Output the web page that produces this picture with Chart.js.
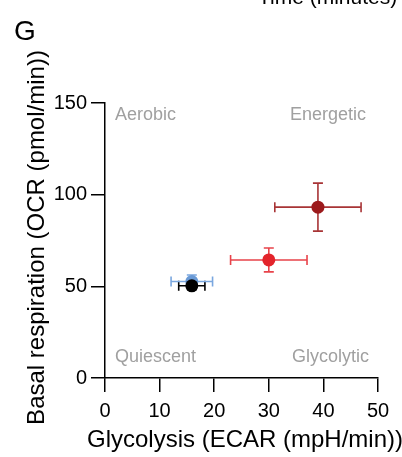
<!DOCTYPE html>
<html>
<head>
<meta charset="utf-8">
<script src="https://cdn.jsdelivr.net/npm/chart.js@4/dist/chart.umd.min.js"></script>
<style>
  html, body { margin: 0; padding: 0; background: #fff; }
  #wrap { position: relative; width: 402px; height: 457px; overflow: hidden; }
  canvas { display: block; }
</style>
</head>
<body>
<div id="wrap"><canvas id="c" width="402" height="457"></canvas></div>
<script>
// ---- data ----
const groups = ['Group A', 'Group B', 'Group C', 'Group D'];
const ecar = [15.9, 15.9, 30.0, 39.0];      // Glycolysis (ECAR, mpH/min)
const ocr = [50.3, 52.6, 64.4, 93.2];       // Basal respiration (OCR, pmol/min)
const ecarErr = [2.4, 3.8, 7.0, 7.9];
const ocrErr = [2.0, 3.6, 6.5, 13.1];
const xTicks = [0, 10, 20, 30, 40, 50];
const yTicks = [0, 50, 100, 150];
const quadrants = ['Aerobic', 'Energetic', 'Quiescent', 'Glycolytic'];
const xTitle = 'Glycolysis (ECAR (mpH/min))';
const yTitle = 'Basal respiration (OCR (pmol/min))';

// ---- styles ----
const pointColors = ['#000000', '#6a9ad6', '#e3242b', '#9c1a1c'];
const barColors = ['#000000', '#7aa7df', '#e8434a', '#a83436'];
const FONT = "'Liberation Sans', Arial, Helvetica, sans-serif";

const datasets = groups.map((g, i) => ({
  label: g,
  data: [{ x: ecar[i], y: ocr[i], xe: ecarErr[i], ye: ocrErr[i] }],
  backgroundColor: pointColors[i],
  borderColor: pointColors[i],
  pointRadius: 6.5,
  pointBorderWidth: 0,
  errColor: barColors[i]
}));

const errorBars = {
  id: 'errorBars',
  beforeDatasetsDraw(chart) {
    const ctx = chart.ctx;
    const xs = chart.scales.x, ys = chart.scales.y;
    const cap = 5;
    ctx.save();
    chart.data.datasets.forEach(ds => {
      ds.data.forEach(p => {
        const cx = xs.getPixelForValue(p.x), cy = ys.getPixelForValue(p.y);
        const x0 = xs.getPixelForValue(p.x - p.xe), x1 = xs.getPixelForValue(p.x + p.xe);
        const y0 = ys.getPixelForValue(p.y - p.ye), y1 = ys.getPixelForValue(p.y + p.ye);
        ctx.strokeStyle = ds.errColor;
        ctx.lineWidth = 1.6;
        ctx.beginPath();
        ctx.moveTo(x0, cy); ctx.lineTo(x1, cy);
        ctx.moveTo(x0, cy - cap); ctx.lineTo(x0, cy + cap);
        ctx.moveTo(x1, cy - cap); ctx.lineTo(x1, cy + cap);
        ctx.moveTo(cx, y0); ctx.lineTo(cx, y1);
        ctx.moveTo(cx - cap, y0); ctx.lineTo(cx + cap, y0);
        ctx.moveTo(cx - cap, y1); ctx.lineTo(cx + cap, y1);
        ctx.stroke();
      });
    });
    ctx.restore();
  }
};

const labels = {
  id: 'labels',
  afterDraw(chart) {
    const ctx = chart.ctx;
    const a = chart.chartArea;
    ctx.save();
    ctx.fillStyle = '#a0a0a0';
    ctx.font = '18px ' + FONT;
    ctx.textBaseline = 'middle';
    ctx.textAlign = 'left';
    ctx.fillText(quadrants[0], a.left + 10, a.top + 12);
    ctx.fillText(quadrants[2], a.left + 10, a.bottom - 21);
    ctx.textAlign = 'right';
    ctx.fillText(quadrants[1], a.right - 12, a.top + 12);
    ctx.fillText(quadrants[3], a.right - 9, a.bottom - 21);
    // axis titles (wider than the plot area, so drawn without squeezing)
    ctx.fillStyle = '#000';
    ctx.font = '24px ' + FONT;
    ctx.textAlign = 'center';
    ctx.textBaseline = 'middle';
    ctx.fillText(xTitle, 245, 440);
    ctx.save();
    ctx.translate(37, 237.5);
    ctx.rotate(-Math.PI / 2);
    ctx.fillText(yTitle, 0, 0);
    ctx.restore();
    // panel letter and clipped heading from the neighbouring panel
    ctx.textAlign = 'left';
    ctx.textBaseline = 'alphabetic';
    ctx.font = '28px ' + FONT;
    ctx.fillText('G', 14, 40);
    ctx.font = '21px ' + FONT;
    ctx.fillText('Time (minutes)', 258, 4);
    ctx.restore();
  }
};

new Chart(document.getElementById('c'), {
  type: 'scatter',
  data: { datasets },
  options: {
    responsive: false,
    animation: false,
    events: [],
    layout: { padding: { top: 103, right: 24, bottom: 0, left: 0 } },
    plugins: { legend: { display: false }, tooltip: { enabled: false } },
    scales: {
      x: {
        type: 'linear',
        min: xTicks[0], max: xTicks[xTicks.length - 1],
        afterFit(s) { s.height = 79; },
        afterBuildTicks(s) { s.ticks = xTicks.map(v => ({ value: v })); },
        grid: { drawOnChartArea: false, color: '#000', lineWidth: 1.5, tickLength: 14 },
        border: { color: '#000', width: 1.5 },
        ticks: { color: '#000', font: { family: FONT, size: 20 }, padding: 7, maxRotation: 0 },
        title: { display: false }
      },
      y: {
        type: 'linear',
        min: yTicks[0], max: yTicks[yTicks.length - 1],
        afterFit(s) { s.width = 105; },
        afterBuildTicks(s) { s.ticks = yTicks.map(v => ({ value: v })); },
        grid: { drawOnChartArea: false, color: '#000', lineWidth: 1.5, tickLength: 14 },
        border: { color: '#000', width: 1.5 },
        ticks: { color: '#000', font: { family: FONT, size: 20 }, padding: 4 },
        title: { display: false }
      }
    }
  },
  plugins: [errorBars, labels]
});
</script>
</body>
</html>
